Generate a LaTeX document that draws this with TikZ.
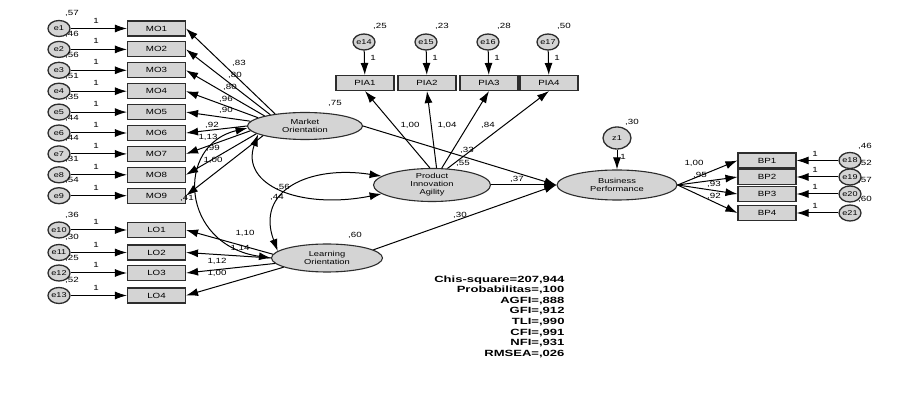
\documentclass[tikz,border=0pt]{standalone}
\usepackage{fontspec}
\setmainfont{Liberation Sans}[FakeStretch=1.3]
\newfontfamily\statfont{Liberation Sans}[FakeStretch=1.45]
\usetikzlibrary{shapes.geometric,arrows.meta}
\definecolor{boxgray}{RGB}{212,212,212}
\definecolor{edgegray}{RGB}{45,45,45}
\tikzset{
  obs/.style={draw=edgegray, fill=boxgray, line width=1.1pt, minimum width=58pt, minimum height=15pt, inner sep=0pt, font=\fontsize{7.5}{8}\selectfont},
  lat/.style={ellipse, draw=edgegray, fill=boxgray, line width=1.1pt, inner sep=0pt, align=center, font=\fontsize{7.2}{8}\selectfont},
  err/.style={ellipse, draw=edgegray, fill=boxgray, line width=1.3pt, minimum width=22pt, minimum height=16pt, inner sep=0pt, font=\fontsize{7}{8}\selectfont},
  est/.style={inner sep=0pt, font=\fontsize{7.5}{8}\selectfont}
}
\begin{document}
\begin{tikzpicture}[x=1pt,y=-1pt,line width=1pt,>={Latex[length=12pt,width=8pt]}]
\useasboundingbox [fill=white] (0,0) rectangle (900,403);
\node [lat, minimum width=115pt, minimum height=27pt] (market) at (305,126) {Market\\Orientation};
\node [lat, minimum width=111pt, minimum height=28pt] (learning) at (327,258) {Learning\\Orientation};
\node [lat, minimum width=117pt, minimum height=33pt] (agility) at (432,185) {Product\\Innovation\\Agility};
\node [lat, minimum width=120pt, minimum height=30pt] (business) at (617,185) {Business\\Performance};
\node [err, minimum width=28pt, minimum height=22pt] (z1) at (617,138) {z1};
\draw [->] (z1) -- (business);
\node [est] at (623,157) {1};
\node [est] at (632,122) {,30};
\foreach \i/\a/\v in {1/158/57,2/162/46,3/166/56,4/170/51,5/175/35,6/180/44,7/185/44,8/189/31,9/193/54}
{
  \pgfmathsetmacro\y{28.5+20.9*(\i-1)}
  \node [obs] (mo\i) at (156.5,\y) {MO\i};
  \node [err] (e\i) at (59,\y) {e\i};
  \draw [->] (e\i) -- (mo\i);
  \draw [->] (market.\a) -- (mo\i.east);
  \node [est] at (96,\y-8) {1};
  \node [est] at (72,\y-15) {,\v};
}
\foreach \i/\n/\y/\a/\v in {1/10/230/176/36,2/11/252.5/180/30,3/12/273/186/25,4/13/295.5/192/52}
{
  \node [obs] (lo\i) at (156.5,\y) {LO\i};
  \node [err] (e\n) at (59,\y) {e\n};
  \draw [->] (e\n) -- (lo\i);
  \draw [->] (learning.\a) -- (lo\i.east);
  \node [est] at (96,\y-8) {1};
  \node [est] at (72,\y-15) {,\v};
}
\foreach \i/\n/\x/\a/\v in {1/14/365/97/25,2/15/427/75/23,3/16/489/60/28,4/17/549/47/50}
{
  \node [obs] (pia\i) at (\x,83) {PIA\i};
  \node [err] (e\n) at (\x-1,42) {e\n};
  \draw [->] (e\n) -- (pia\i);
  \draw [->] (agility.\a) -- (pia\i.south);
  \node [est] at (\x+8,58) {1};
  \node [est] at (\x+15,26) {,\v};
}
\foreach \i/\n/\y/\v in {1/18/160.5/46,2/19/177/52,3/20/194/57,4/21/213/60}
{
  \node [obs] (bp\i) at (767,\y) {BP\i};
  \node [err] (e\n) at (850,\y) {e\n};
  \draw [->] (e\n) -- (bp\i);
  \draw [->] (business.east) -- (bp\i.west);
  \node [est] at (815,\y-7) {1};
  \node [est] at (865,\y-14) {,\v};
}
\draw [->] (market.east) -- (business.west);
\draw [->] (agility.east) -- (business.west);
\draw [->] (learning.10) -- (business.west);
\draw [<->] (market.182) .. controls (175,145) and (180,245) .. (learning.180);
\draw [<->] (market.190) .. controls (240,185) and (300,210) .. (agility.190);
\draw [<->] (learning.172) .. controls (255,190) and (310,165) .. (agility.170);
\node [est] at (335,103) {,75};
\node [est] at (355,235) {,60};
\node [est] at (463,163) {,55};
\node [est] at (467,150) {,33};
\node [est] at (517,179) {,37};
\node [est] at (460,215) {,30};
\node [est] at (283,187) {,56};
\node [est] at (277,197) {,44};
\node [est] at (410,125) {1,00};
\node [est] at (447,125) {1,04};
\node [est] at (488,125) {,84};
\node [est] at (239,63) {,83};
\node [est] at (235,75) {,80};
\node [est] at (230,87) {,80};
\node [est] at (226,99) {,96};
\node [est] at (226,110) {,90};
\node [est] at (212,125) {,92};
\node [est] at (208,137) {1,13};
\node [est] at (213,148) {,99};
\node [est] at (213,160) {1,00};
\node [est] at (187,198) {,41};
\node [est] at (245,233) {1,10};
\node [est] at (240,248) {1,14};
\node [est] at (217,261) {1,12};
\node [est] at (217,273) {1,00};
\node [est] at (694,163) {1,00};
\node [est] at (700,175) {,95};
\node [est] at (714,184) {,93};
\node [est] at (714,196) {,92};
\node [anchor=north east, align=right, inner sep=0pt, font=\statfont\bfseries\fontsize{9}{10.6}\selectfont] (fit) at (565,275) {Chis-square=207,944\\Probabilitas=,100\\AGFI=,888\\GFI=,912\\TLI=,990\\CFI=,991\\NFI=,931\\RMSEA=,026};
\end{tikzpicture}
\end{document}
